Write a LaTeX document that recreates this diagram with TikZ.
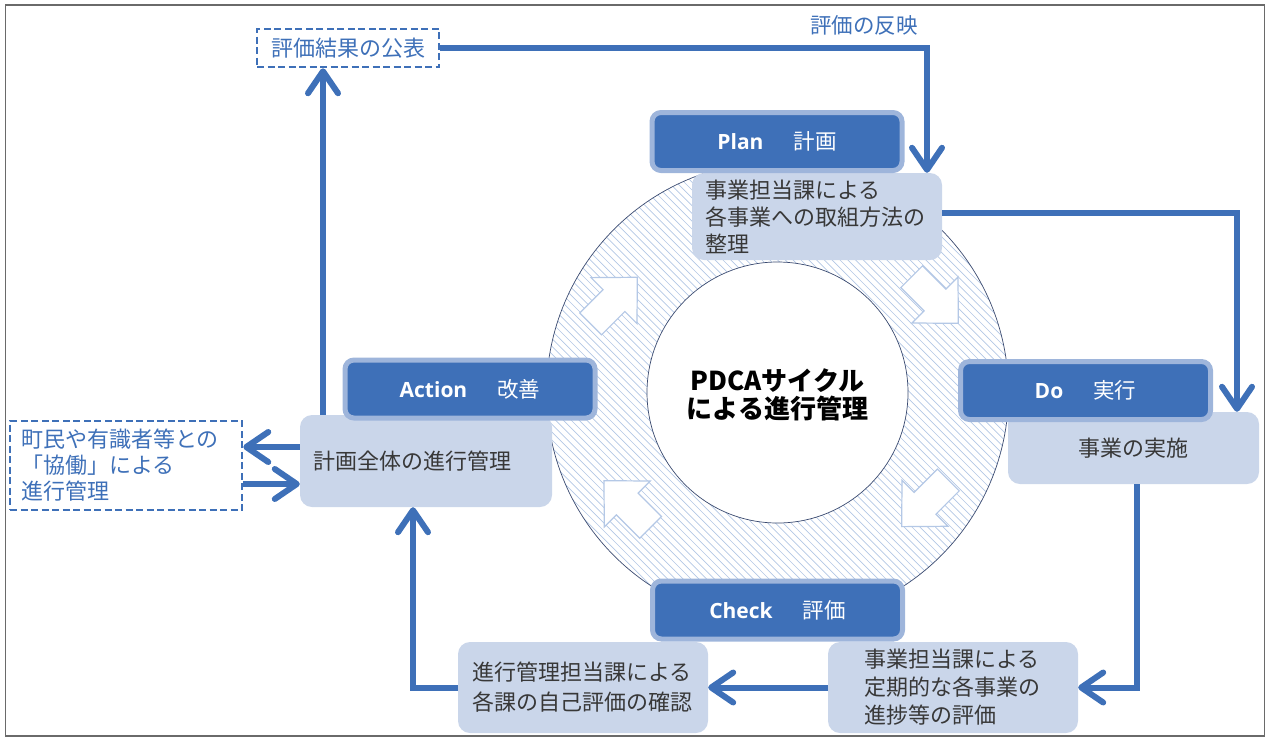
\documentclass[tikz,border=0pt]{standalone}
\usepackage{fontspec}
\setmainfont{Noto Sans CJK JP}
\newfontfamily\latinfont{Open Sans}
\usetikzlibrary{arrows.meta}

\definecolor{pdcablue}{HTML}{3E70B8}
\definecolor{hdrrim}{HTML}{9EB5DB}
\definecolor{boxfill}{HTML}{CAD6EA}
\definecolor{hatchblue}{HTML}{B2C7E4}
\definecolor{ringline}{HTML}{3A4A70}
\definecolor{blockline}{HTML}{B4C8E6}
\definecolor{bodytext}{HTML}{383838}
\definecolor{framegray}{HTML}{6A6A6A}

\newcommand{\hdrlabel}[2]{{\latinfont\bfseries\fontsize{21pt}{21pt}\selectfont #1}\hspace{30pt}{\fontsize{21.5pt}{21pt}\selectfont #2}}

\tikzset{
  hdr/.style={fill=pdcablue, draw=hdrrim, line width=5pt, rounded corners=9pt,
    minimum width=250pt, minimum height=58pt, inner sep=0pt, text=white},
  txtbox/.style={fill=boxfill, rounded corners=12pt, text=bodytext,
    font=\fontsize{22pt}{27pt}\selectfont},
  dashbox/.style={draw=pdcablue, line width=2.5pt, dash pattern=on 7pt off 3.5pt,
    text=pdcablue, font=\fontsize{22pt}{27pt}\selectfont},
  flow/.style={draw=pdcablue, line width=6pt,
    -{Straight Barb[length=22pt,width=30pt,round]}},
  blockarrow/.style={fill=white, draw=blockline, line width=1.2pt, line join=miter},
}

\begin{document}
\begin{tikzpicture}[x=1pt, y=-1pt]
\useasboundingbox (0,0) rectangle (1269,740);
\draw[framegray, line width=1.5pt] (5.5,5) rectangle (1264.5,736);

% hatched ring
\coordinate (c) at (777.5,392.5);
\begin{scope}
  \clip (c) circle[radius=231pt];
  \foreach \k in {-70,...,70}
    \draw[hatchblue, line width=0.7pt] ({777.5+\k*7.8-260},132.5) -- ++(520,520);
\end{scope}
\fill[white] (c) circle[radius=130.5pt];
\draw[ringline, line width=0.7pt] (c) circle[radius=231pt];
\draw[ringline, line width=0.7pt] (c) circle[radius=130.5pt];

% hollow block arrows around the cycle
\foreach \px/\py/\ang in {614/300.6/45, 935/300/-45, 925/503.3/-135, 627.3/504/135}{
  \begin{scope}[shift={(\px,\py)}, rotate=\ang]
    \draw[blockarrow] (33,0) -- (0,32.5) -- (0,15.4) -- (-33,15.4) -- (-33,-15.4)
      -- (0,-15.4) -- (0,-32.5) -- cycle;
  \end{scope}
}

% centre label
\node[font=\bfseries\fontsize{26pt}{28pt}\selectfont, align=center, text=black]
  (title) at (777.5,395) {PDCAサイクル\\による進行管理};

% text boxes
\node[txtbox, minimum width=250pt, minimum height=87pt, text width=224pt,
  inner xsep=13pt, align=left] (plantxt) at (817,216.5)
  {事業担当課による\\各事業への取組方法の\\整理};
\node[txtbox, minimum width=252pt, minimum height=92pt, text width=226pt,
  inner xsep=13pt, align=left] (actxt) at (426,461) {計画全体の進行管理};
\node[txtbox, minimum width=251pt, minimum height=72pt, align=center]
  (dotxt) at (1133.5,448) {事業の実施};
\node[txtbox, minimum width=250pt, minimum height=91pt, text width=178pt,
  align=left, font=\fontsize{22pt}{28pt}\selectfont] (chkR) at (953,687.5)
  {事業担当課による\\定期的な各事業の\\進捗等の評価};
\node[txtbox, minimum width=250pt, minimum height=91pt, text width=222pt,
  inner xsep=14pt, align=left, font=\fontsize{22pt}{30pt}\selectfont]
  (chkL) at (583,687.5) {進行管理担当課による\\各課の自己評価の確認};

% phase headers
\node[hdr] (plan) at (777,141.5) {\hdrlabel{Plan}{計画}};
\node[hdr] (act) at (470,389) {\hdrlabel{Action}{改善}};
\node[hdr] (do) at (1085.5,390.5) {\hdrlabel{Do}{実行}};
\node[hdr] (check) at (777.5,610) {\hdrlabel{Check}{評価}};

% dashed boxes
\node[dashbox, minimum width=182pt, minimum height=38pt, inner sep=0pt]
  (pub) at (348,48) {評価結果の公表};
\node[dashbox, minimum width=232pt, minimum height=89pt, text width=210pt,
  inner xsep=11pt, align=left, font=\fontsize{22pt}{26pt}\selectfont]
  (collab) at (126,465.5) {町民や有識者等との\\「協働」による\\進行管理};

\node[text=pdcablue, font=\fontsize{21.5pt}{22pt}\selectfont]
  (reflect) at (864,25) {評価の反映};

% connectors
\coordinate (upx) at (323,0);
\coordinate (rx) at (927,0);
\coordinate (dx) at (1237,0);
\coordinate (cx) at (1137,0);
\coordinate (lx) at (413,0);
\coordinate (ya) at (0,447);
\coordinate (yb) at (0,484);
\coordinate (yp) at (0,213);

\draw[flow] (actxt.north -| upx) -- (pub.south -| upx);
\draw[flow] (pub.east) -| (plantxt.north -| rx);
\draw[flow] (yp -| plantxt.east) -| (dotxt.north -| dx);
\draw[flow] (dotxt.south -| cx) |- (chkR.east);
\draw[flow] (chkR.west) -- (chkL.east);
\draw[flow] (chkL.west) -| (actxt.south -| lx);
\draw[flow] (ya -| actxt.west) -- (ya -| collab.east);
\draw[flow] (yb -| collab.east) -- (yb -| actxt.west);
\end{tikzpicture}
\end{document}
